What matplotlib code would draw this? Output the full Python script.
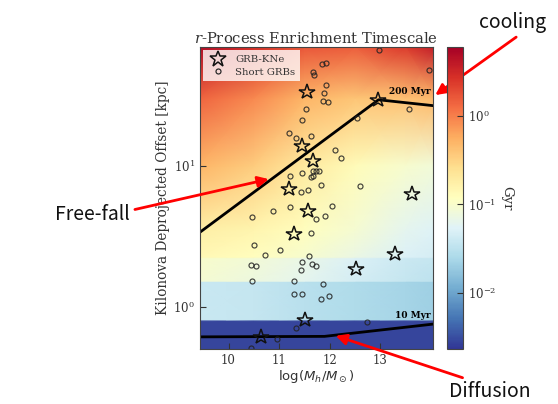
"""r-process enrichment timescale vs. host halo mass and kilonova offset."""

import numpy as np
import matplotlib
matplotlib.use("Agg")
import matplotlib.pyplot as plt
from matplotlib.colors import LogNorm
from matplotlib.lines import Line2D
from matplotlib.ticker import NullLocator

plt.rcParams["font.family"] = "DejaVu Serif"
plt.rcParams["mathtext.fontset"] = "dejavuserif"

# GRB-kilonovae (log halo mass, deprojected offset in kpc)
kne_mass = [11.56, 11.46, 11.67, 11.19, 11.58, 11.29, 13.63, 13.30, 12.53,
            11.52, 10.65, 12.97]
kne_offset = [33.4, 13.7, 10.7, 6.84, 4.75, 3.25, 6.34, 2.38, 1.84,
              0.80, 0.61, 29.3]

# short GRBs
sgrb_mass = [12.99, 13.97, 11.85, 11.93, 11.67, 11.69, 11.93, 11.89, 11.88,
             11.97, 11.54, 11.46, 12.55, 13.58, 11.19, 11.34, 11.64, 12.10,
             12.22, 11.67, 11.74, 11.80, 11.63, 11.68, 11.84, 12.61, 11.21,
             11.45, 11.44, 11.58, 10.88, 11.22, 10.46, 11.74, 11.91, 12.05,
             11.63, 10.50, 10.73, 11.01, 11.59, 10.45, 10.55, 11.46, 11.65,
             11.74, 11.44, 10.46, 11.29, 11.88, 11.29, 11.45, 11.84, 11.99,
             11.34, 10.96, 12.75, 10.45]
sgrb_offset = [65.5, 47.3, 52.5, 53.3, 46.4, 44.1, 37.4, 32.7, 28.8,
               28.1, 25.2, 21.2, 21.8, 25.2, 17.0, 15.8, 16.1, 12.8,
               11.3, 9.1, 9.1, 9.1, 8.35, 8.4, 7.26, 7.2, 8.4,
               8.87, 6.55, 6.66, 4.78, 5.1, 4.31, 4.2, 4.38, 5.15,
               3.34, 2.72, 2.34, 2.5, 2.28, 1.97, 1.94, 2.08, 1.99,
               1.94, 1.81, 1.52, 1.52, 1.45, 1.22, 1.22, 1.13, 1.18,
               0.70, 0.59, 0.78, 0.51]

# model curves
ff_mass = [9.40, 12.97, 14.10]
ff_offset = [3.30, 29.3, 26.5]
diff_mass = [9.40, 11.90, 14.10]
diff_offset = [0.61, 0.615, 0.755]

# timescale map: log10(t / Gyr) on a coarse grid
map_mass = [9.40, 10.5, 11.5, 12.5, 13.5, 14.10]
map_offset = [0.5, 0.79, 0.81, 1.50, 1.52, 2.20, 2.25, 3.5, 10.0, 30.0, 70.0]
map_logt = [
    [-2.55, -2.55, -2.55, -2.55, -2.55, -2.55],
    [-2.55, -2.55, -2.55, -2.55, -2.55, -2.55],
    [-1.42, -1.45, -1.52, -1.58, -1.65, -1.68],
    [-1.42, -1.45, -1.52, -1.58, -1.65, -1.68],
    [-1.05, -1.12, -1.22, -1.35, -1.45, -1.50],
    [-1.00, -1.07, -1.17, -1.30, -1.40, -1.45],
    [-0.85, -0.92, -1.02, -1.15, -1.30, -1.35],
    [-0.75, -0.82, -0.92, -1.05, -1.22, -1.28],
    [-0.30, -0.45, -0.70, -0.88, -1.02, -1.08],
    [0.15, -0.05, -0.30, -0.40, -0.38, -0.32],
    [0.70, 0.45, 0.22, 0.18, 0.38, 0.58],
]

VMIN, VMAX = 0.0023, 6.0

fig = plt.figure(figsize=(5.58, 4.04), dpi=100)
ax = fig.add_axes([0.358, 0.136, 0.418, 0.748])
cax = fig.add_axes([0.801, 0.136, 0.029, 0.748])

X, Y = np.meshgrid(map_mass, map_offset)
T = 10.0 ** np.array(map_logt)
ax.set_yscale("log")
mesh = ax.pcolormesh(X, Y, T, shading="gouraud", cmap="RdYlBu_r",
                     norm=LogNorm(vmin=VMIN, vmax=VMAX), rasterized=True)

ax.plot(ff_mass, ff_offset, color="black", lw=2)
ax.plot(diff_mass, diff_offset, color="black", lw=2)

ax.plot(sgrb_mass, sgrb_offset, "o", ms=3.6, mfc="none", mec="#222222",
        mew=0.85, alpha=0.85)
ax.plot(kne_mass, kne_offset, "*", ms=11.5, mfc="none", mec="#111111",
        mew=1.1)

ax.text(14.0, 31.0, "200 Myr", ha="right", va="bottom", fontsize=6.5,
        fontweight="bold")
ax.text(14.0, 0.81, "10 Myr", ha="right", va="bottom", fontsize=6.5,
        fontweight="bold")

ax.set_xlim(9.43, 14.05)
ax.set_ylim(0.5, 69.5)
ax.set_xticks([10, 11, 12, 13])
ax.yaxis.set_minor_locator(NullLocator())
ax.tick_params(direction="in", labelsize=8.5, length=4, width=0.8,
               colors="#333333", labelcolor="#333333")
for sp in ax.spines.values():
    sp.set_color("#444444")
    sp.set_linewidth(0.8)

ax.set_xlabel(r"$\log(M_h/M_\odot)$", fontsize=9.5, color="#333333",
              math_fontfamily="dejavusans", labelpad=1)
ax.set_ylabel("Kilonova Deprojected Offset [kpc]", fontsize=9.8,
              color="#333333", labelpad=2)
ax.set_title(r"$r$-Process Enrichment Timescale", fontsize=10.6,
             color="#333333", pad=3)

handles = [
    Line2D([], [], ls="none", marker="*", ms=12, mfc="none", mec="#111111",
           mew=1.1, label="GRB-KNe"),
    Line2D([], [], ls="none", marker="o", ms=3.6, mfc="none", mec="#222222",
           mew=0.85, label="Short GRBs"),
]
leg = ax.legend(handles=handles, loc="upper left", fontsize=7.3,
                framealpha=0.8, edgecolor="none", fancybox=False,
                borderaxespad=0.35, handletextpad=0.7, labelspacing=0.35,
                borderpad=0.45)
for t in leg.get_texts():
    t.set_color("#333333")

cb = fig.colorbar(mesh, cax=cax)
cb.set_ticks([0.01, 0.1, 1.0])
cb.ax.yaxis.set_minor_locator(NullLocator())
cb.ax.tick_params(direction="in", labelsize=8.5, length=4, width=0.8,
                  colors="#333333", labelcolor="#333333")
cb.outline.set_edgecolor("#444444")
cb.outline.set_linewidth(0.8)
cb.set_label("Gyr", rotation=270, fontsize=9.5, color="#333333", labelpad=12)

# annotations pointing at the three regimes
jp = ["Noto Sans CJK JP", "DejaVu Sans"]
arrow = dict(arrowstyle="-|>", color="red", lw=2, mutation_scale=16)
ax.annotate("cooling", xy=(14.05, 30.8), xycoords="data",
            xytext=(0.918, 0.945), textcoords="figure fraction",
            ha="center", va="center", fontsize=14, family=jp, color="#111111",
            arrowprops=dict(arrow, relpos=(0.65, 0.0)), annotation_clip=False)
ax.annotate("Free-fall", xy=(10.85, 8.1), xycoords="data",
            xytext=(0.165, 0.468), textcoords="figure fraction",
            ha="center", va="center", fontsize=14, family=jp, color="#111111",
            arrowprops=dict(arrow, relpos=(1.0, 0.7)), annotation_clip=False)
ax.annotate("Diffusion", xy=(12.07, 0.63), xycoords="data",
            xytext=(0.878, 0.03), textcoords="figure fraction",
            ha="center", va="center", fontsize=14, family=jp, color="#111111",
            arrowprops=dict(arrow, relpos=(0.3, 1.0)), annotation_clip=False)

fig.savefig("out.png", dpi=100)
